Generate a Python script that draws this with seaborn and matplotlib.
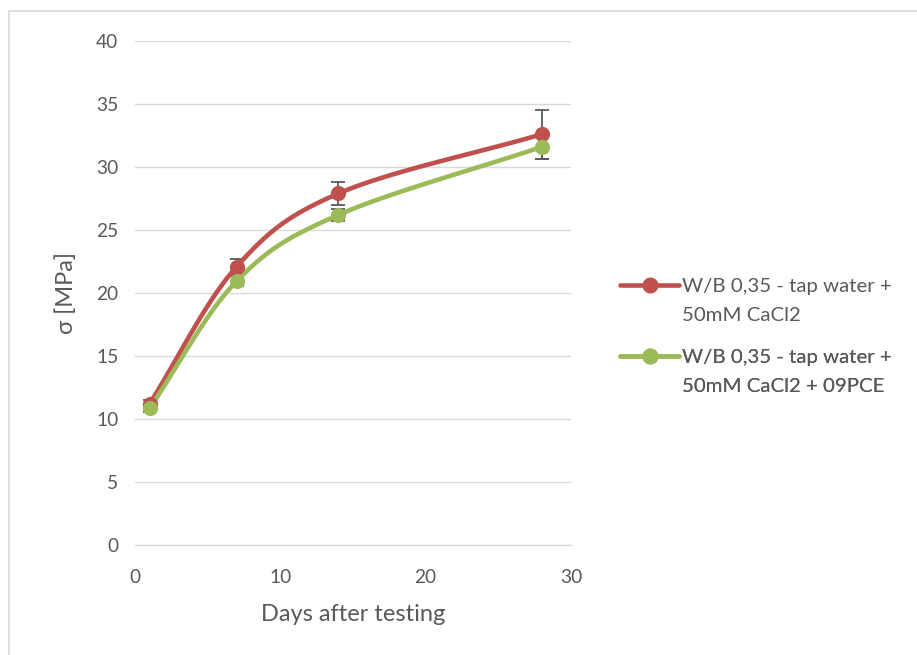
import numpy as np
import pandas as pd
import matplotlib
matplotlib.use("Agg")
import matplotlib.pyplot as plt
import seaborn as sns
from matplotlib.patches import Rectangle
from matplotlib.lines import Line2D

days = [1, 7, 14, 28]
red_vals = [11.2, 22.1, 27.9, 32.6]
red_err = [0.3, 0.6, 0.9, 1.95]
green_vals = [10.85, 20.95, 26.2, 31.6]
green_err = [0.3, 0.4, 0.5, 1.0]
label_lines = [["W/B 0,35 - tap water +", "50mM CaCl2"],
               ["W/B 0,35 - tap water +", "50mM CaCl2 + 09PCE"]]
colors = ["#C0504D", "#9BBB59"]

sns.set_theme(style="white")
plt.rcParams['font.family'] = ['Lato', 'DejaVu Sans']

W, H = 917, 655
fig = plt.figure(figsize=(W / 100, H / 100), dpi=100)
ax = fig.add_axes([135 / W, 1 - 545 / H, (571 - 135) / W, (545 - 41) / H])


def catmull(x, y, n=40):
    x = np.asarray(x, float); y = np.asarray(y, float)
    px = np.concatenate([[2 * x[0] - x[1]], x, [2 * x[-1] - x[-2]]])
    py = np.concatenate([[2 * y[0] - y[1]], y, [2 * y[-1] - y[-2]]])
    xs, ys = [], []
    for i in range(1, len(px) - 2):
        t = np.linspace(0, 1, n, endpoint=(i == len(px) - 3))
        p0, p1, p2, p3 = (np.array([px[j], py[j]]) for j in range(i - 1, i + 3))
        for tt in t:
            pt = 0.5 * ((2 * p1) + (-p0 + p2) * tt + (2 * p0 - 5 * p1 + 4 * p2 - p3) * tt ** 2
                        + (-p0 + 3 * p1 - 3 * p2 + p3) * tt ** 3)
            xs.append(pt[0]); ys.append(pt[1])
    return np.array(xs), np.array(ys)


for vals, errs, col in [(red_vals, red_err, colors[0]),
                        (green_vals, green_err, colors[1])]:
    ax.errorbar(days, vals, yerr=errs, fmt="none", ecolor="#595959",
                elinewidth=1.3, capsize=5, capthick=1.3, zorder=2)
    sx, sy = catmull(days, vals)
    curve = pd.DataFrame({"x": sx, "y": sy})
    sns.lineplot(data=curve, x="x", y="y", ax=ax, color=col, linewidth=3.3,
                 sort=False, estimator=None, zorder=3)
    pts = pd.DataFrame({"x": days, "y": vals})
    sns.scatterplot(data=pts, x="x", y="y", ax=ax, color=col, s=120,
                    edgecolor=col, linewidth=0, zorder=4)

ax.set_xlim(0, 30)
ax.set_ylim(0, 40)
ax.set_xticks([0, 10, 20, 30])
ax.set_yticks(range(0, 41, 5))
ax.yaxis.grid(True, color="#D9D9D9", linewidth=1)
ax.xaxis.grid(False)
for s in ["top", "right", "left"]:
    ax.spines[s].set_visible(False)
ax.spines["bottom"].set_color("#D9D9D9")
ax.spines["bottom"].set_linewidth(1)
ax.tick_params(axis="both", colors="#595959", labelsize=13.8, length=0)
ax.tick_params(axis="y", pad=12)
ax.tick_params(axis="x", pad=17)
ax.set_xlabel("Days after testing", fontsize=17, color="#595959", labelpad=13)
ax.set_ylabel("σ [MPa]", fontsize=17, color="#595959", labelpad=14)

blank = Line2D([], [], linestyle="none")
anchors = [(286, 0), (357, 1)]
for ypix, i in anchors:
    h = Line2D([], [], color=colors[i], linewidth=3.3, marker="o",
               markersize=10.5)
    leg = ax.legend([h, blank], label_lines[i], loc="center left",
                    bbox_to_anchor=(620 / W, 1 - (ypix + 15) / H),
                    bbox_transform=fig.transFigure, frameon=False,
                    fontsize=14.7, labelcolor="#595959", handlelength=2.9,
                    labelspacing=0.58, handletextpad=0.15, borderaxespad=0,
                    borderpad=0)
    ax.add_artist(leg)

fig.patches.append(Rectangle((8.5 / W, -0.1), 1.2, 1 - 10.5 / H + 0.1,
                             transform=fig.transFigure, fill=False,
                             edgecolor="#D9D9D9", linewidth=1.2))

fig.savefig("out.png", dpi=100, facecolor="white")
